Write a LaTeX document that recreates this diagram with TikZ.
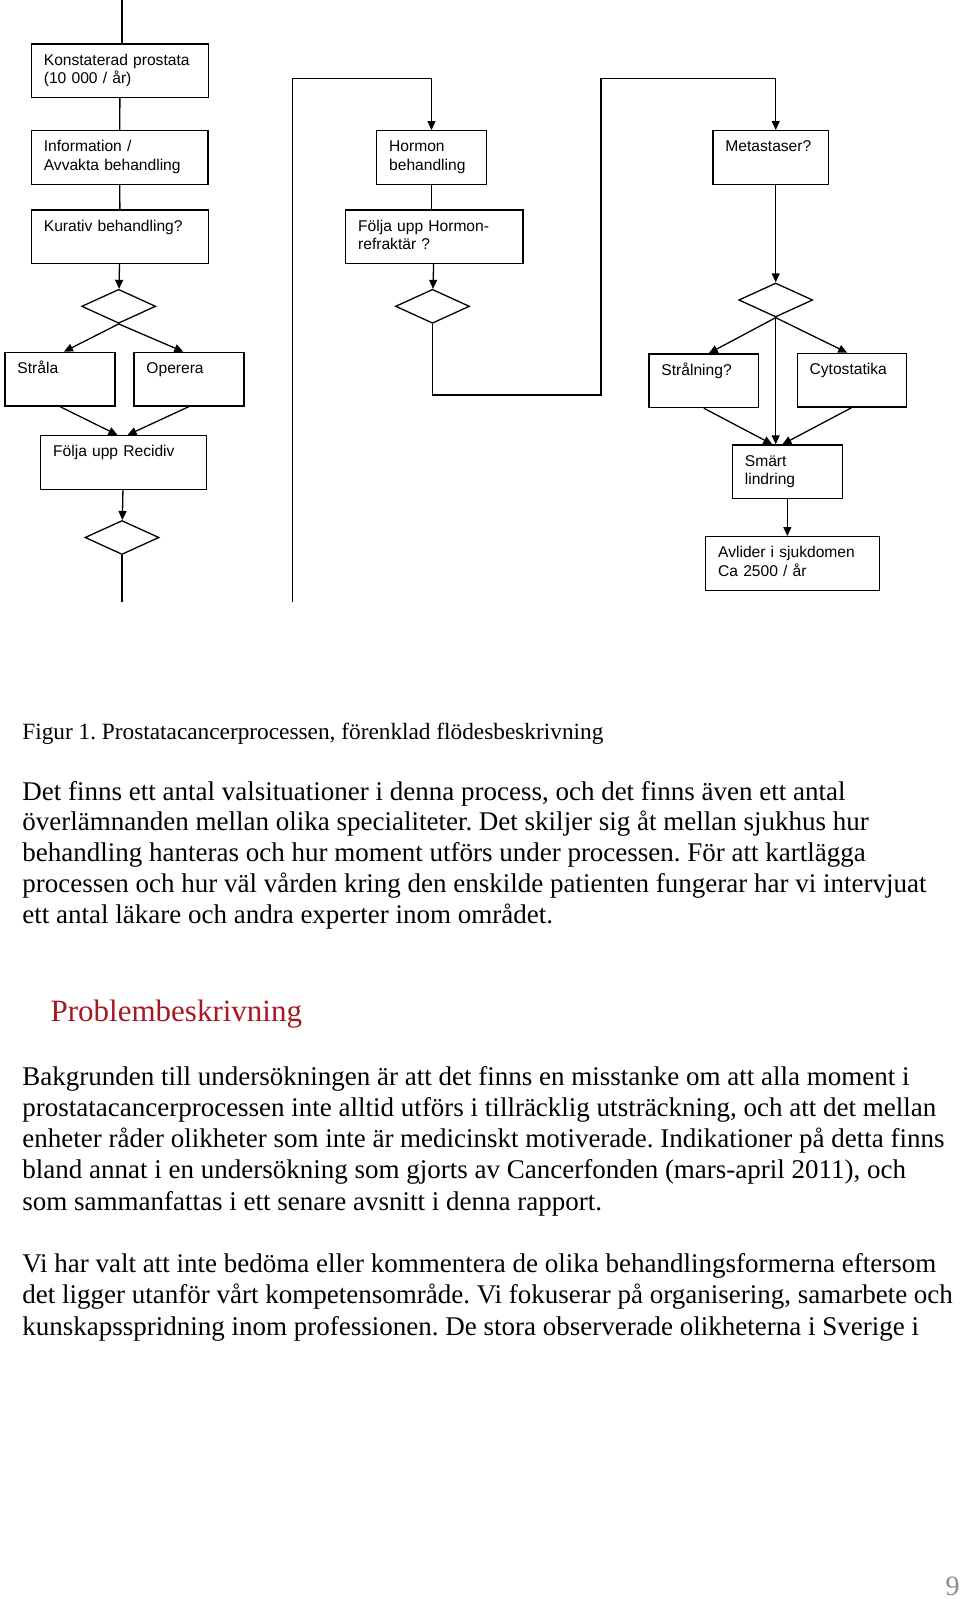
\documentclass[tikz,border=0pt]{standalone}
\usepackage{fontspec}
\setmainfont{Liberation Serif}
\newfontfamily\arialfont{Liberation Sans}
\usetikzlibrary{shapes.geometric,arrows.meta}
\definecolor{rubrik}{RGB}{168,24,34}
\definecolor{sidnr}{RGB}{140,140,140}
\frenchspacing

\begin{document}
\begin{tikzpicture}[x=1pt,y=-1pt,line width=1.3pt,
  box/.style={draw,rectangle,anchor=north west,inner xsep=12.5pt,inner ysep=0pt,
    text width=#1,minimum height=53.6pt,align=left,
    font=\arialfont\fontsize{15.6}{18.3}\selectfont,
    execute at begin node=\strut,execute at end node=\strut},
  beslut/.style={draw,diamond,minimum width=74pt,minimum height=34pt,inner sep=0pt},
  pil/.style={-{Triangle[length=9pt,width=8pt]}},
  brod/.style={anchor=base west,inner sep=0pt,font=\fontsize{27}{31}\selectfont}]
\useasboundingbox (0,0) rectangle (960,1599);

% vänster spalt
\node[box=152.3pt] (konst) at (30.7,43.3) {Konstaterad prostata\\(10 000 / år)};
\node[box=151.6pt] (info) at (30.7,130) {Information /\\Avvakta behandling};
\node[box=152.3pt] (kurativ) at (30.7,209.3) {Kurativ behandling?\\};
\node[beslut] (val1) at (118.7,306.3) {};
\node[box=85pt] (strala) at (4.3,351.7) {Stråla\\};
\node[box=85pt] (operera) at (133.3,351.7) {Operera\\};
\node[box=140.7pt] (foljrec) at (40,435) {Följa upp Recidiv\\};
\node[beslut] (val2) at (122,537.5) {};

% mitten
\node[box=84.7pt] (hormon) at (376,130) {Hormon\\behandling};
\node[box=152.3pt] (foljhorm) at (345,209.3) {Följa upp Hormon-\\refraktär ?};
\node[beslut] (val3) at (432.5,306.3) {};

% höger spalt
\node[box=90.4pt] (metast) at (712.3,130) {Metastaser?\\};
\node[beslut] (val4) at (775.7,300) {};
\node[box=84.7pt] (straln) at (648.3,353.3) {Strålning?\\};
\node[box=84.2pt] (cytost) at (796.5,352.7) {Cytostatika\\};
\node[box=85pt] (smart) at (731.7,444.3) {Smärt\\lindring};
\node[box=149pt] (avlider) at (705,536) {Avlider i sjukdomen\\Ca 2500 / år};

\coordinate (topp) at (122,0);
\coordinate (slut1) at (122,602);
\coordinate (slut2) at (292.3,602);

\draw (topp) -- (topp |- konst.north);
\draw (konst) -- (info);
\draw (info) -- (kurativ);
\draw[pil] (kurativ) -- (val1);
\draw[pil] (val1.south) -- ([xshift=4]strala.north);
\draw[pil] (val1.south) -- ([xshift=-5.6]operera.north);
\draw[pil] (strala.south) -- ([xshift=-6]foljrec.north);
\draw[pil] (operera.south) -- ([xshift=4]foljrec.north);
\draw[pil] (foljrec) -- (val2);
\draw (val2.south) -- (slut1);

\draw[pil] (slut2) |- ([yshift=51.7]hormon.north) -- (hormon.north);
\draw (hormon.south) -- (hormon.south |- foljhorm.north);
\draw[pil] (foljhorm) -- (val3);
\draw[pil] (val3.south) -- ++(0,71) -| (601,78.3) -| (val4 |- metast.north);

\draw[pil] (val4 |- metast.south) -- (val4.north);
\draw[pil] (val4.south) -- ([xshift=5]straln.north);
\draw[pil] (val4.south) -- ([xshift=-4.5]cytost.north);
\draw[pil] (val4.south) -- (val4.south |- smart.north);
\draw[pil] (straln.south) -- ([xshift=-15]smart.north);
\draw[pil] (cytost.south) -- ([xshift=-5]smart.north);
\draw[pil] (smart.south) -- (smart.south |- avlider.north);

% text under figuren
\node[anchor=base west,inner sep=0pt,font=\fontsize{23.3}{28}\selectfont] (figur) at (21.7,739)
  {Figur 1. Prostatacancerprocessen, förenklad flödesbeskrivning};
\foreach \rad [count=\i] in {
  {Det finns ett antal valsituationer i denna process, och det finns även ett antal},
  {överlämnanden mellan olika specialiteter. Det skiljer sig åt mellan sjukhus hur},
  {behandling hanteras och hur moment utförs under processen. För att kartlägga},
  {processen och hur väl vården kring den enskilde patienten fungerar har vi intervjuat},
  {ett antal läkare och andra experter inom området.}}
  \node[brod] (st1-\i) at (21.7,{800+30.8*(\i-1)}) {\rad};

\node[anchor=base west,inner sep=0pt,text=rubrik,font=\fontsize{31}{36}\selectfont] (rubrik) at (50,1021.7)
  {Problembeskrivning};

\foreach \rad [count=\i] in {
  {Bakgrunden till undersökningen är att det finns en misstanke om att alla moment i},
  {prostatacancerprocessen inte alltid utförs i tillräcklig utsträckning, och att det mellan},
  {enheter råder olikheter som inte är medicinskt motiverade. Indikationer på detta finns},
  {bland annat i en undersökning som gjorts av Cancerfonden (mars-april 2011), och},
  {som sammanfattas i ett senare avsnitt i denna rapport.}}
  \node[brod] (st2-\i) at (21.7,{1085+31.25*(\i-1)}) {\rad};

\foreach \rad [count=\i] in {
  {Vi har valt att inte bedöma eller kommentera de olika behandlingsformerna eftersom},
  {det ligger utanför vårt kompetensområde. Vi fokuserar på organisering, samarbete och},
  {kunskapsspridning inom professionen. De stora observerade olikheterna i Sverige i}}
  \node[brod] (st3-\i) at (21.7,{1272.7+31.2*(\i-1)}) {\rad};

\node[anchor=base west,inner sep=0pt,text=sidnr,font=\fontsize{28}{30}\selectfont] (sida) at (945,1595) {9};
\end{tikzpicture}
\end{document}
